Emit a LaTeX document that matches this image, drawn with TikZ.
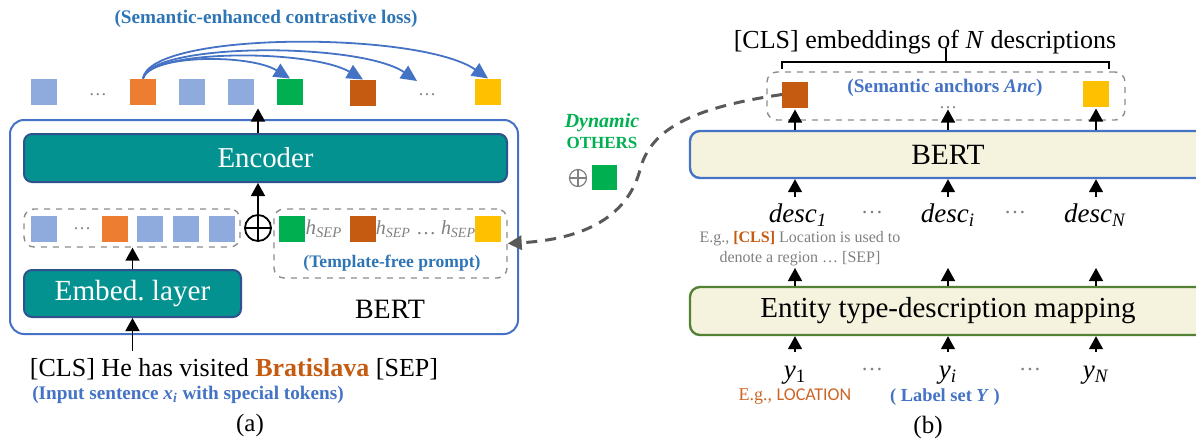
\documentclass[tikz,border=0pt]{standalone}
\usepackage{fontspec}
\setmainfont{Liberation Serif}
\newfontfamily\calibri{Carlito}
\usepackage{xcolor}
\usepackage{tikz}
\usetikzlibrary{arrows.meta}
\definecolor{tokblue}{RGB}{143, 170, 220}
\definecolor{tokorange}{RGB}{237, 125, 49}
\definecolor{tokgreen}{RGB}{0, 176, 80}
\definecolor{tokbrown}{RGB}{197, 90, 17}
\definecolor{tokyellow}{RGB}{255, 192, 0}
\definecolor{encteal}{RGB}{3, 146, 144}
\definecolor{encborder}{RGB}{47, 82, 143}
\definecolor{bertblue}{RGB}{68, 114, 196}
\definecolor{labelblue}{RGB}{46, 117, 182}
\definecolor{cream}{RGB}{245, 243, 222}
\definecolor{mapgreen}{RGB}{84, 130, 53}
\definecolor{dashgray}{RGB}{140, 140, 140}
\definecolor{curvegray}{RGB}{89, 89, 89}
\definecolor{textgray}{RGB}{128, 128, 128}
\definecolor{locorange}{RGB}{205, 100, 35}
\newcommand{\setfs}[1]{\fontsize{#1}{#1}\selectfont}

\begin{document}
\begin{tikzpicture}[x=0.5pt,y=-0.5pt,
  tok/.style={minimum size=13pt,inner sep=0pt,outer sep=0pt},
  tealbox/.style={draw=encborder,fill=encteal,line width=1pt,rounded corners=4pt,text=white,inner sep=0pt},
  creambox/.style={fill=cream,line width=1.2pt,rounded corners=5pt,inner sep=0pt},
  grpbox/.style={draw=dashgray,dashed,line width=0.7pt,rounded corners=5pt,inner sep=0pt},
  dotsty/.style={text=textgray,inner sep=0pt,font=\setfs{9}},
  note/.style={font=\bfseries\setfs{9.6},inner sep=0pt},
  up/.style={-{Triangle[length=6.5pt,width=7pt]},line width=0.75pt},
  loss/.style={-{Triangle[length=8pt,width=7.5pt]},bertblue,line width=0.9pt},
  dyn/.style={-{Triangle[length=7pt,width=7pt]},curvegray,line width=1.5pt,dash pattern=on 5.5pt off 4pt}]
\useasboundingbox (0,0) rectangle (1196,445);

% ---- (a) prompt-based BERT ----
\node[draw=bertblue,line width=1pt,rounded corners=7pt,minimum width=254pt,minimum height=107pt] (bertL) at (264,227) {};
\node[font=\setfs{14}] (bertLtxt) at (390,309) {BERT};
\node[tealbox,minimum width=241.5pt,minimum height=24pt,font=\setfs{14.4}] (enc) at (265.5,158) {Encoder};
\node[tealbox,minimum width=108.5pt,minimum height=23.5pt,font=\setfs{14.6}] (emb) at (132.5,293.5) {Embed.\ layer};

% input embeddings
\node[grpbox,minimum width=108pt,minimum height=19pt] (inL) at (132,228) {};
\node[tok,fill=tokblue] (i1) at (44,228.5) {};
\node[dotsty] (idots) at (82,229) {\ldots};
\node[tok,fill=tokorange] (i2) at (115,228.5) {};
\node[tok,fill=tokblue] (i3) at (150,228.5) {};
\node[tok,fill=tokblue] (i4) at (186,228.5) {};
\node[tok,fill=tokblue] (i5) at (222,228.5) {};

% concat operator
\node[draw,circle,line width=0.9pt,minimum size=13pt,inner sep=0pt] (plus) at (258,228) {};
\draw[line width=0.9pt] (plus.north) -- (plus.south) (plus.west) -- (plus.east);

% prompt
\node[grpbox,minimum width=116.5pt,minimum height=34.5pt] (prm) at (390.5,243.5) {};
\node[tok,fill=tokgreen] (p1) at (292,228.5) {};
\node[text=textgray,font=\setfs{10.5},inner sep=0pt] (h1) at (324,229) {\textit{h}\textsubscript{\textit{SEP}}};
\node[tok,fill=tokbrown] (p2) at (363,228.5) {};
\node[text=textgray,font=\setfs{10},inner sep=0pt] (h2) at (426,229) {\textit{h}\textsubscript{\textit{SEP}} \ldots\ \textit{h}\textsubscript{\textit{SEP}}};
\node[tok,fill=tokyellow] (p3) at (488,228.5) {};
\node[note,text=labelblue,font=\bfseries\setfs{8.8}] (prmtxt) at (392,263) {(Template-free prompt)};

% output row
\node[tok,fill=tokblue] (o1) at (44,91.5) {};
\node[dotsty] (odots1) at (98,95) {\ldots};
\node[tok,fill=tokorange] (o2) at (143,91.5) {};
\node[tok,fill=tokblue] (o3) at (192,91.5) {};
\node[tok,fill=tokblue] (o4) at (241,91.5) {};
\node[tok,fill=tokgreen] (o5) at (290,91.5) {};
\node[tok,fill=tokbrown] (o6) at (363,92.5) {};
\node[dotsty] (odots2) at (427,95) {\ldots};
\coordinate (odotsend) at (417,81);
\node[tok,fill=tokyellow] (o7) at (488,91.5) {};
\node[note,text=labelblue] (losstxt) at (266,19) {(Semantic-enhanced contrastive loss)};

\draw[loss] (o2.north) .. controls (150,54) and (250,54) .. (o5.north);
\draw[loss] (o2.north) .. controls (150,49) and (310,49) .. (o6.north);
\draw[loss] (o2.north) .. controls (150,42) and (360,42) .. (odotsend);
\draw[loss] (o2.north) .. controls (150,31) and (420,31) .. (o7.north);

\draw[up] (plus.north) -- (plus |- enc.south);
\draw[up] (plus |- enc.north) -- ([yshift=-2pt]plus |- o4.south);
\draw[up] (emb.north) -- (emb |- inL.south);

\node[font=\setfs{13}] (sent) at (234,369) {[CLS] He has visited \textbf{\textcolor{tokbrown}{Bratislava}} [SEP]};
\node[note,text=bertblue] (sentnote) at (188,395) {(Input sentence \textit{x\textsubscript{i}} with special tokens)};
\draw[up] (emb.south |- sent.north) -- (emb.south);
\node[font=\setfs{12.5}] (capa) at (250,425) {(a)};

% ---- dynamic OTHERS ----
\node[font=\bfseries\itshape\setfs{10},text=tokgreen,inner sep=0pt] (dyntxt) at (602,123) {Dynamic};
\node[font=\bfseries\setfs{8.5},text=tokgreen,inner sep=0pt] (othtxt) at (602,143) {OTHERS};
\node[draw=textgray,circle,line width=0.6pt,minimum size=8.5pt,inner sep=0pt] (plus2) at (578,178) {};
\draw[textgray,line width=0.6pt] (plus2.north) -- (plus2.south) (plus2.west) -- (plus2.east);
\node[tok,fill=tokgreen,minimum size=12.5pt] (oth) at (604.5,177.5) {};

% ---- (b) description encoder ----
\node[font=\setfs{13}] (hdr) at (925,42) {[CLS] embeddings of \textit{N} descriptions};
\node[grpbox,minimum width=179pt,minimum height=24pt] (ancbox) at (946,96) {};
\node[tok,fill=tokbrown] (anc1) at (795,94.5) {};
\node[tok,fill=tokyellow] (ancN) at (1096,93.5) {};
\node[note,text=bertblue] (anctxt) at (945,88) {(Semantic anchors \textit{Anc})};
\node[dotsty] (ancdots) at (948,108) {\ldots};
\draw[line width=0.75pt] (anc1.west |- 0,69) -- (anc1.west |- 0,62) -| (ancN.east |- 0,69);
\draw[line width=0.75pt] (ancbox.north |- 0,62) -- (ancbox.north |- 0,48);

\node[creambox,draw=bertblue,minimum width=258pt,minimum height=23.5pt,font=\setfs{14.7}] (bertR) at (948,154.5) {BERT};
\node[creambox,draw=mapgreen,minimum width=258pt,minimum height=24pt,font=\setfs{14.5}] (map) at (948,311) {Entity type-description mapping};

\coordinate (desctop) at (0,197);
\coordinate (descbot) at (0,268);
\coordinate (ytop) at (0,352);

\node[font=\setfs{13.5},inner sep=1pt] (d1) at (798,215) {\textit{desc\textsubscript{1}}};
\node[dotsty,font=\setfs{11}] (ddots1) at (872,213) {\ldots};
\node[font=\setfs{13.5},inner sep=1pt] (di) at (948,215) {\textit{desc\textsubscript{i}}};
\node[dotsty,font=\setfs{11}] (ddots2) at (1015,213) {\ldots};
\node[font=\setfs{13.5},inner sep=1pt] (dN) at (1095,215) {\textit{desc\textsubscript{N}}};
\node[font=\fontsize{8}{10}\selectfont,text=textgray,align=center,inner sep=0pt] (eg1) at (800,249) {E.g., \textbf{\textcolor{tokbrown}{[CLS]}} Location is used to\\denote a region \ldots\ [SEP]};

\node[font=\setfs{13.5},inner sep=1pt] (y1) at (795,375) {\textit{y}\textsubscript{1}};
\node[dotsty,font=\setfs{11}] (ydots1) at (872,370) {\ldots};
\node[font=\setfs{13.5},inner sep=1pt] (yi) at (948,375) {\textit{y}\textsubscript{\textit{i}}};
\node[dotsty,font=\setfs{11}] (ydots2) at (1030,370) {\ldots};
\node[font=\setfs{13.5},inner sep=1pt] (yN) at (1096,375) {\textit{y}\textsubscript{\textit{N}}};
\node[font=\setfs{9},text=locorange,inner sep=0pt] (eg2) at (795,397) {E.g., {\calibri LOCATION}};
\node[note,text=bertblue,font=\bfseries\setfs{9.2}] (labtxt) at (945,397) {( Label set \textit{Y} )};
\node[font=\setfs{12.5}] (capb) at (928,427) {(b)};

\draw[up] (anc1 |- bertR.north) -- ([yshift=-1pt]anc1.south);
\draw[up] (ancdots |- bertR.north) -- ([yshift=-1pt]ancdots |- anc1.south);
\draw[up] (ancN |- bertR.north) -- ([yshift=-1pt]ancN.south);
\draw[up] (anc1 |- desctop) -- (anc1 |- bertR.south);
\draw[up] (ancdots |- desctop) -- (ancdots |- bertR.south);
\draw[up] (ancN |- desctop) -- (ancN |- bertR.south);
\draw[up] (anc1 |- map.north) -- (anc1 |- descbot);
\draw[up] (ancdots |- map.north) -- (ancdots |- descbot);
\draw[up] (ancN |- map.north) -- (ancN |- descbot);
\draw[up] (anc1 |- ytop) -- (anc1 |- map.south);
\draw[up] (ancdots |- ytop) -- (ancdots |- map.south);
\draw[up] (ancN |- ytop) -- (ancN |- map.south);

% anchor injected into the prompt
\draw[dyn] (anc1.west) .. controls (690,108) and (650,130) .. (640,170) .. controls (625,225) and (570,240) .. (prm.east);
\end{tikzpicture}
\end{document}
